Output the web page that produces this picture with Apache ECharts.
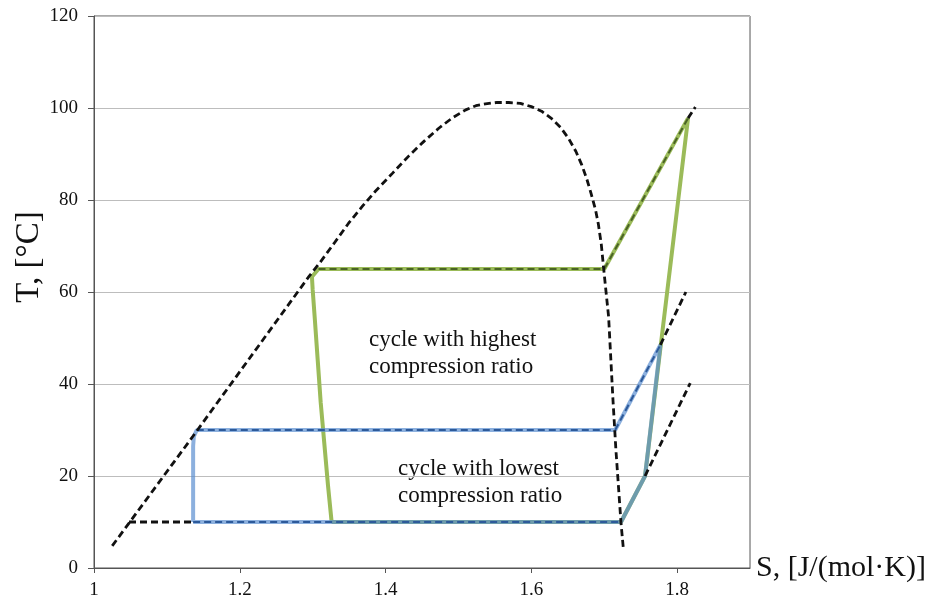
<!DOCTYPE html>
<html>
<head>
<meta charset="utf-8">
<script src="https://cdn.jsdelivr.net/npm/echarts@6/dist/echarts.min.js"></script>
<style>
  html, body { margin: 0; padding: 0; background: #fff; }
  #chart { width: 929px; height: 603px; }
</style>
</head>
<body>
<div id="chart"></div>
<script>
// saturation dome (black dashed)
var domeS = [1.025, 1.136, 1.295, 1.310, 1.329, 1.349, 1.368, 1.386, 1.410, 1.432, 1.453, 1.473, 1.492, 1.510, 1.524, 1.537, 1.553, 1.569, 1.585, 1.600, 1.614, 1.627, 1.640, 1.651, 1.661, 1.669, 1.676, 1.682, 1.688, 1.692, 1.696, 1.699, 1.706, 1.712, 1.716, 1.723, 1.726];
var domeT = [4.8, 28.7, 63.4, 66.4, 70.5, 74.9, 78.6, 81.9, 85.9, 89.6, 92.8, 95.6, 97.9, 99.6, 100.5, 100.9, 101.2, 101.2, 101.0, 100.3, 99.3, 97.8, 95.8, 93.4, 90.6, 87.7, 84.6, 81.4, 77.9, 74.7, 70.3, 65.4, 54.6, 36.5, 25.7, 9.8, 4.6];

// cycle with lowest compression ratio (blue)
var blueS = [1.136, 1.136, 1.137, 1.141, 1.715, 1.777, 1.756, 1.723, 1.136];
var blueT = [10, 26.5, 28.6, 30, 30, 48.5, 20, 10, 10];
// isobars of the blue cycle (dark dashes)
var blueHighS = [1.141, 1.715, 1.777];
var blueHighT = [30, 30, 48.5];
var blueLowS = [1.136, 1.723];
var blueLowT = [10, 10];

// cycle with highest compression ratio (green)
var greenS = [1.326, 1.321, 1.316, 1.311, 1.307, 1.303, 1.300, 1.299, 1.308, 1.700, 1.815, 1.756, 1.723, 1.326];
var greenT = [10, 18, 27, 36, 45, 54, 60.5, 63.3, 65, 65, 97.8, 20, 10, 10];
var greenHighS = [1.308, 1.700, 1.815];
var greenHighT = [65, 65, 97.8];

// black dashed isobar extensions
var ext10S = [1.048, 1.136];
var ext10T = [10, 10];
var ext20S = [1.756, 1.818];
var ext20T = [20, 40.2];
var ext30S = [1.777, 1.812];
var ext30T = [48.5, 60];
var ext65S = [1.815, 1.825];
var ext65T = [97.8, 100.2];

var xTicks = [1, 1.2, 1.4, 1.6, 1.8];
var yTicks = [0, 20, 40, 60, 80, 100, 120];

function pairs(s, t) {
    var out = [];
    for (var i = 0; i < s.length; i++) out.push([s[i], t[i]]);
    return out;
}

function line(s, t, style, z) {
    return {
        type: 'line',
        data: pairs(s, t),
        showSymbol: false,
        symbol: 'none',
        silent: true,
        z: z,
        lineStyle: style
    };
}

var blackDash = {color: '#111', width: 2.8, type: [7, 4]};
var serif = 'Liberation Serif';

var myChart = echarts.init(document.getElementById('chart'));

var option = {
    animation: false,
    backgroundColor: '#fff',
    grid: {
        left: 94, top: 16, right: 177, bottom: 35,
        show: true, borderColor: '#555', borderWidth: 1
    },
    xAxis: {
        type: 'value',
        min: 1, max: 1.9, interval: 0.2,
        name: 'S, [J/(mol·K)]',
        nameLocation: 'end',
        nameGap: 6,
        nameTextStyle: {fontFamily: serif, fontSize: 30, color: '#111', align: 'left', verticalAlign: 'middle', padding: [26, 0, 0, 0]},
        axisLine: {onZero: false, lineStyle: {color: '#555'}},
        axisTick: {show: true, length: 5, lineStyle: {color: '#555'}},
        splitLine: {show: false},
        axisLabel: {
            fontFamily: serif, fontSize: 19, color: '#111', margin: 13, showMaxLabel: false,
            formatter: function (v) {
                for (var i = 0; i < xTicks.length; i++) {
                    if (Math.abs(xTicks[i] - v) < 1e-6) return String(xTicks[i]);
                }
                return '';
            }
        }
    },
    yAxis: {
        type: 'value',
        min: 0, max: 120, interval: 20,
        axisLine: {show: true, lineStyle: {color: '#555'}},
        axisTick: {show: true, length: 6, lineStyle: {color: '#555'}},
        splitLine: {show: true, lineStyle: {color: '#bdbdbd', width: 1}},
        axisLabel: {
            fontFamily: serif, fontSize: 19, color: '#111', margin: 16,
            formatter: function (v) { return yTicks.indexOf(v) >= 0 ? String(v) : ''; }
        }
    },
    graphic: [
        {
            type: 'text', x: 29, y: 257, rotation: Math.PI / 2,
            style: {text: 'T, [°C]', font: '33px "Liberation Serif"', fill: '#111', align: 'center', verticalAlign: 'middle'}
        },
        {
            type: 'text', left: 369, top: 326,
            style: {text: 'cycle with highest\ncompression ratio', font: '23px "Liberation Serif"', lineHeight: 27, fill: '#111'}
        },
        {
            type: 'text', left: 398, top: 455,
            style: {text: 'cycle with lowest\ncompression ratio', font: '23px "Liberation Serif"', lineHeight: 27, fill: '#111'}
        }
    ],
    series: [
        line(greenS, greenT, {color: '#9bbb59', width: 4}, 2),
        line(blueS, blueT, {color: '#5b8fd0', width: 4, opacity: 0.7}, 3),
        line(greenHighS, greenHighT, {color: '#4a6326', width: 2, type: [7, 4]}, 4),
        line(blueHighS, blueHighT, {color: '#2d5a9a', width: 2, type: [7, 4]}, 4),
        line(blueLowS, blueLowT, {color: '#2d5a9a', width: 2, type: [7, 4]}, 4),
        line(domeS, domeT, blackDash, 5),
        line(ext10S, ext10T, blackDash, 5),
        line(ext20S, ext20T, blackDash, 5),
        line(ext30S, ext30T, blackDash, 5),
        line(ext65S, ext65T, blackDash, 5)
    ]
};

myChart.setOption(option);
</script>
</body>
</html>
